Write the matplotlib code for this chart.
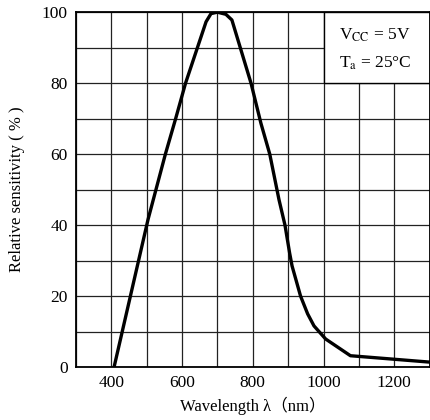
import matplotlib
matplotlib.use("Agg")
import matplotlib.pyplot as plt
from matplotlib.patches import Rectangle

# spectral sensitivity curve
wavelength = [408, 504, 553, 582, 610, 668, 682, 700, 724, 741, 795, 823, 848,
              874, 891, 904, 911, 935, 955, 973, 1006, 1076, 1300]
sensitivity = [0, 41.6, 60, 70, 80, 97.3, 99.6, 100, 99.4, 97.8, 80, 68.7, 60,
               47.2, 40, 32.2, 28.5, 20, 15, 11.6, 7.9, 3.2, 1.4]

x_ticks = [400, 600, 800, 1000, 1200]
y_ticks = [0, 20, 40, 60, 80, 100]

plt.rcParams['font.family'] = ['Liberation Serif', 'Noto Sans CJK JP', 'DejaVu Sans']
plt.rcParams['mathtext.fontset'] = 'stix'

fig = plt.figure(figsize=(4.31, 4.20), dpi=100)
ax = fig.add_axes([0.176, 0.126, 0.821, 0.845])

ax.set_xlim(300, 1300)
ax.set_ylim(0, 100)
ax.set_xticks(range(300, 1301, 100), minor=True)
ax.set_yticks(range(0, 101, 10), minor=True)
ax.set_xticks(x_ticks)
ax.set_yticks(y_ticks)
ax.tick_params(which='both', length=0, labelsize=12.5, pad=6)
ax.grid(which='both', color='#222222', linewidth=0.9)
ax.set_axisbelow(True)
for s in ax.spines.values():
    s.set_linewidth(1.3)

ax.plot(wavelength, sensitivity, color='black', linewidth=2.4, zorder=3,
        solid_joinstyle='round')

# condition box in the upper right corner, covering the grid
ax.add_patch(Rectangle((1000, 80), 300, 20, facecolor='white',
                       edgecolor='black', linewidth=1.0, zorder=2))
ax.text(1145, 93.5, r'V$_{\rm CC}$ = 5V', ha='center', va='center',
        fontsize=12.5, zorder=4)
ax.text(1147, 85.6, r'T$_{\rm a}$ = 25°C', ha='center', va='center',
        fontsize=12.5, zorder=4)

ax.set_xlabel('Wavelength λ（nm）', fontsize=12, labelpad=4)
ax.set_ylabel('Relative sensitivity ( % )', fontsize=12, labelpad=12)

fig.savefig('out.png', dpi=100)
